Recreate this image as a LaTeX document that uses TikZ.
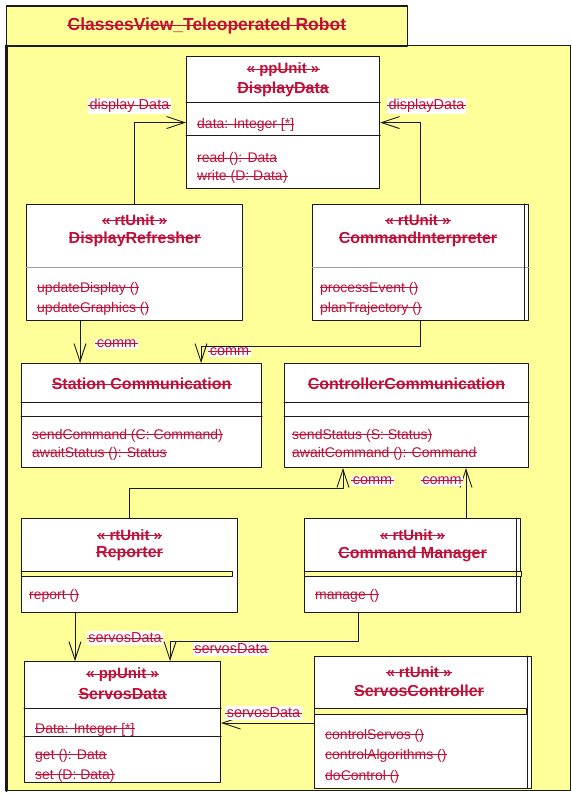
\documentclass[tikz,border=0pt]{standalone}
\usepackage{fontspec}
\setmainfont{Liberation Sans}
\usepackage{tikz}
\usetikzlibrary{arrows.meta,calc,positioning}
\definecolor{umlred}{HTML}{C01038}
\definecolor{umlyellow}{HTML}{FFFF99}
\definecolor{umlline}{HTML}{1A1A1A}
\definecolor{umlgray}{HTML}{A0A0A0}
\tikzset{
every picture/.style={line cap=round,line join=round},
package frame/.style={draw=umlline, fill=umlyellow, line width=1.8pt},
class box/.style={
  draw=umlline,
  fill=white,
  line width=1.1pt,
  anchor=north west,
  inner sep=0pt
},
strike line/.style={draw=umlred, line width=0.75pt, line cap=butt},
strike/.style={append after command={
  \pgfextra{\draw[strike line]
    ([yshift=#1]\tikzlastnode.base west) -- ([yshift=#1]\tikzlastnode.base east);}}},
title text/.style={font=\fontsize{17.5}{20}\selectfont\bfseries, text=umlred, inner sep=0pt, strike=6pt},
name text/.style={font=\fontsize{16}{18}\selectfont\bfseries, text=umlred, inner sep=0pt, strike=5.5pt},
stereo text/.style={font=\fontsize{15}{17}\selectfont\bfseries, text=umlred, inner sep=0pt, strike=5pt},
member text/.style={font=\fontsize{14}{16}\selectfont, text=umlred, anchor=base west, inner sep=0pt, strike=4.5pt},
link label/.style={font=\fontsize{14.5}{16}\selectfont, text=umlred, fill=white, inner sep=1.5pt},
assoc/.style={
  draw=umlline,
  line width=0.9pt,
  -{Straight Barb[length=18pt,width=12pt,line width=0.9pt]}
},
divider/.style={draw=umlline, line width=1pt},
thin divider/.style={draw=umlgray, line width=0.8pt},
band/.style={draw=umlline, fill=umlyellow, line width=0.8pt}
}
\begin{document}
\begin{tikzpicture}[x=1pt,y=-1pt]
\useasboundingbox (0,0) rectangle (572,794);
\fill[white] (0,0) rectangle (572,794);
\draw[package frame] (5.5,45.5) rectangle (570.5,790.5);
\draw[umlline, line width=3pt] (6,45.5) -- (6,790.5);
\node[package frame, minimum width=401pt, minimum height=40pt, anchor=north west] (tab) at (5.5,5.5) {};
\node[title text] (title) at (tab.center) {ClassesView\_Teleoperated Robot};

\node[class box, minimum width=193pt, minimum height=132pt] (dispdata) at (186,56) {};
\node[class box, minimum width=216pt, minimum height=116pt] (refresher) at (26,204) {};
\node[class box, minimum width=216pt, minimum height=116pt] (interp) at (312,204) {};
\node[class box, minimum width=240pt, minimum height=104pt] (stationcomm) at (21,363) {};
\node[class box, minimum width=244pt, minimum height=104pt] (ctrlcomm) at (284,363) {};
\node[class box, minimum width=216pt, minimum height=94pt] (reporter) at (21,518) {};
\node[class box, minimum width=216pt, minimum height=94pt] (cmdmgr) at (304,518) {};
\node[class box, minimum width=196pt, minimum height=121pt] (servosdata) at (24,661) {};
\node[class box, minimum width=217pt, minimum height=132pt] (servoctrl) at (314,656) {};

\draw[divider] (dispdata.west |- 0,103) -- (dispdata.east |- 0,103);
\draw[divider] (dispdata.west |- 0,136) -- (dispdata.east |- 0,136);
\draw[thin divider] (refresher.west |- 0,267) -- (refresher.east |- 0,267);
\draw[thin divider] (interp.west |- 0,267) -- (interp.east |- 0,267);
\draw[divider] (stationcomm.west |- 0,402) -- (stationcomm.east |- 0,402);
\draw[divider] (stationcomm.west |- 0,416) -- (stationcomm.east |- 0,416);
\draw[divider] (ctrlcomm.west |- 0,402) -- (ctrlcomm.east |- 0,402);
\draw[divider] (ctrlcomm.west |- 0,416) -- (ctrlcomm.east |- 0,416);
\draw[divider] (servosdata.west |- 0,708) -- (servosdata.east |- 0,708);
\draw[divider] (servosdata.west |- 0,736) -- (servosdata.east |- 0,736);
\draw[band] (reporter.west |- 0,571) rectangle (232,576);
\draw[band] (cmdmgr.west |- 0,571) rectangle (cmdmgr.east |- 0,576);
\draw[band] (servoctrl.west |- 0,708) rectangle (526.5,714);
\draw[umlline, line width=1pt] (interp.north east) ++(-4.5,0) -- ++(0,116);
\draw[umlline, line width=1pt] (cmdmgr.north east) ++(-5,0) -- ++(0,94);
\draw[umlline, line width=1pt] (servoctrl.north east) ++(-4.5,0) -- ++(0,132);

\node[stereo text] (dispdatast) at (dispdata.center |- 0,70) {« ppUnit »};
\node[name text] (dispdatanm) at (dispdata.center |- 0,89) {DisplayData};
\node[stereo text] (refresherst) at (refresher.center |- 0,220) {« rtUnit »};
\node[name text] (refreshernm) at (refresher.center |- 0,239) {DisplayRefresher};
\node[stereo text] (interpst) at (418,220) {« rtUnit »};
\node[name text] (interpnm) at (418,239) {CommandInterpreter};
\node[name text] (stationcommnm) at (stationcomm.center |- 0,384) {Station Communication};
\node[name text] (ctrlcommnm) at (ctrlcomm.center |- 0,384) {ControllerCommunication};
\node[stereo text] (reporterst) at (reporter.center |- 0,535) {« rtUnit »};
\node[name text] (reporternm) at (reporter.center |- 0,554) {Reporter};
\node[stereo text] (cmdmgrst) at (cmdmgr.center |- 0,535) {« rtUnit »};
\node[name text] (cmdmgrnm) at (cmdmgr.center |- 0,554) {Command Manager};
\node[stereo text] (servosdatast) at (servosdata.center |- 0,675) {« ppUnit »};
\node[name text] (servosdatanm) at (servosdata.center |- 0,694) {ServosData};
\node[stereo text] (servoctrlst) at (419,672) {« rtUnit »};
\node[name text] (servoctrlnm) at (419,691) {ServosController};

\foreach \nm/\x/\y/\txt in {
  dd1/197/129/{data: Integer [*]}, dd2/197/163/{read (): Data}, dd3/197/181/{write (D: Data)},
  dr1/37/292/{updateDisplay ()}, dr2/37/312/{updateGraphics ()},
  ci1/320/292/{processEvent ()}, ci2/320/312/{planTrajectory ()},
  sc1/32/439/{sendCommand (C: Command)}, sc2/32/457/{awaitStatus (): Status},
  cc1/292/439/{sendStatus (S: Status)}, cc2/292/457/{awaitCommand (): Command},
  rp1/29/599/{report ()}, cm1/315/599/{manage ()},
  sd1/35/733/{Data: Integer [*]}, sd2/35/759/{get (): Data}, sd3/35/779/{set (D: Data)},
  so1/325/739/{controlServos ()}, so2/325/759/{controlAlgorithms ()}, so3/325/780/{doControl ()}} {
\node[member text] (\nm) at (\x,\y) {\txt};
}

\coordinate (bendci) at (201,346);
\coordinate (bendrp) at (343,488);
\coordinate (bendcm) at (170,641);
\draw[assoc] (refresher.north) |- (dispdata.west);
\draw[assoc] (interp.north -| 420,0) |- (dispdata.east);
\draw[assoc] (refresher.south -| 80,0) -- (stationcomm.north -| 80,0);
\draw[assoc] (interp.south -| 420,0) |- (bendci) -- (stationcomm.north -| bendci);
\draw[assoc] (reporter.north) |- (bendrp) -- (ctrlcomm.south -| bendrp);
\draw[assoc] (cmdmgr.north -| 466,0) -- (ctrlcomm.south -| 466,0);
\draw[assoc] (reporter.south -| 75,0) -- (servosdata.north -| 75,0);
\draw[assoc] (cmdmgr.south -| 358.5,0) |- (bendcm) -- (servosdata.north -| bendcm);
\draw[assoc] (servoctrl.west |- 0,723) -- (servosdata.east |- 0,723);

\node[link label] (lbldd1) at (129.5,106) {display Data};
\node[link label] (lbldd2) at (426.5,106) {displayData};
\node[link label] (lblsc1) at (116.5,344) {comm};
\node[link label] (lblsc2) at (229.5,352) {comm};
\node[link label] (lblcc1) at (372.5,481) {comm};
\node[link label] (lblcc2) at (442,481) {comm};
\node[link label] (lblsd1) at (125,638) {servosData};
\node[link label] (lblsd2) at (231,649) {servosData};
\node[link label] (lblsd3) at (263.5,713) {servosData};
\foreach \lbl in {lbldd1,lbldd2,lblsc1,lblsc2,lblcc1,lblcc2,lblsd1,lblsd2,lblsd3} {
\draw[strike line] ([yshift=4.6pt]\lbl.base west) -- ([yshift=4.6pt]\lbl.base east);
}
\end{tikzpicture}
\end{document}
